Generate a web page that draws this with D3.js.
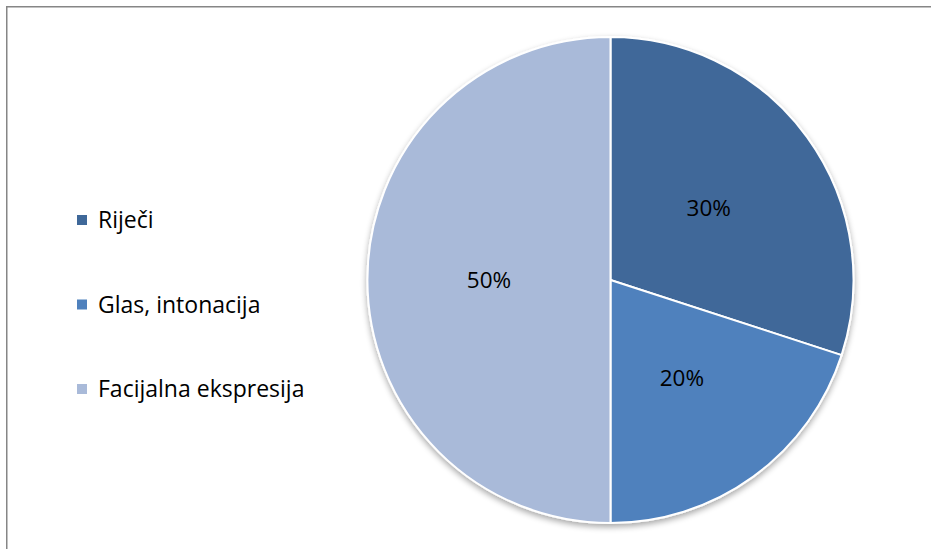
<!DOCTYPE html>
<meta charset="utf-8">
<script src="https://d3js.org/d3.v7.min.js"></script>
<style>
  body { margin: 0; background: #fff; }
</style>
<div id="chart"></div>
<script>

    // data
    const categories = ["Riječi", "Glas, intonacija", "Facijalna ekspresija"];
    const values = [30, 20, 50];
    const colors = ["#3F6899", "#4F81BD", "#A9BAD9"];

    const width = 931, height = 549;
    const cx = 610.5, cy = 280, radius = 243;

    const svg = d3.select("#chart")
      .append("svg")
        .attr("width", width)
        .attr("height", height);

    // outer frame
    svg.append("rect")
      .attr("x", 6.75).attr("y", 6.75)
      .attr("width", width).attr("height", height)
      .attr("fill", "none")
      .attr("stroke", "#868686")
      .attr("stroke-width", 1.5);

    // soft shadow
    const defs = svg.append("defs");
    const filt = defs.append("filter").attr("id", "shadow")
      .attr("x", "-10%").attr("y", "-10%").attr("width", "120%").attr("height", "125%");
    filt.append("feGaussianBlur").attr("in", "SourceAlpha").attr("stdDeviation", 3);
    filt.append("feOffset").attr("dx", 0).attr("dy", 3).attr("result", "b");
    filt.append("feComponentTransfer").append("feFuncA").attr("type", "linear").attr("slope", 0.35);
    const merge = filt.append("feMerge");
    merge.append("feMergeNode");
    merge.append("feMergeNode").attr("in", "SourceGraphic");

    const pie = d3.pie().sort(null).value(d => d);
    const arcs = pie(values);
    const arc = d3.arc().innerRadius(0).outerRadius(radius);

    const g = svg.append("g")
      .attr("transform", `translate(${cx}, ${cy})`);

    g.append("g").attr("filter", "url(#shadow)")
      .selectAll("path")
      .data(arcs)
      .join("path")
        .attr("d", arc)
        .attr("fill", (d, i) => colors[i])
        .attr("stroke", "#fff")
        .attr("stroke-width", 2)
        .attr("stroke-linejoin", "round");

    // slice labels
    g.selectAll("text.lbl")
      .data(arcs)
      .join("text")
        .attr("class", "lbl")
        .attr("transform", d => `translate(${arc.centroid(d)})`)
        .attr("text-anchor", "middle")
        .attr("dy", "0.35em")
        .style("font-family", "'Open Sans', sans-serif")
        .style("font-size", "22.5px")
        .attr("fill", "#000")
        .text(d => d.data + "%");

    // legend
    const legend = svg.append("g")
      .selectAll("g")
      .data(categories)
      .join("g")
        .attr("transform", (d, i) => `translate(77, ${220 + i * 84.5})`);

    legend.append("rect")
      .attr("x", 0).attr("y", -5)
      .attr("width", 10).attr("height", 10)
      .attr("fill", (d, i) => colors[i]);

    legend.append("text")
      .attr("x", 21)
      .attr("dy", "0.35em")
      .style("font-family", "'Open Sans', sans-serif")
      .style("font-size", "23px")
      .attr("fill", "#000")
      .text(d => d);

</script>
